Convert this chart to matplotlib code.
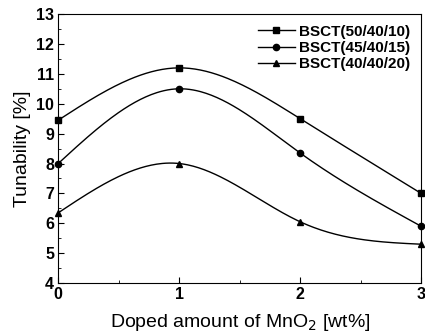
import numpy as np
import matplotlib.pyplot as plt

plt.rcParams['font.family'] = ['Liberation Sans', 'DejaVu Sans']

mno2 = [0, 1, 2, 3]
bsct_50 = [9.45, 11.2, 9.5, 7.0]
bsct_45 = [8.0, 10.5, 8.35, 5.9]
bsct_40 = [6.35, 8.0, 6.05, 5.3]
labels = ['BSCT(50/40/10)', 'BSCT(45/40/15)', 'BSCT(40/40/20)']
markers = ['s', 'o', '^']


def spline(x, y, n=200):
    # natural cubic spline through the measured points (smooth connecting line)
    x = np.asarray(x, float)
    y = np.asarray(y, float)
    k = len(x)
    h = np.diff(x)
    A = np.zeros((k, k))
    b = np.zeros(k)
    A[0, 0] = A[-1, -1] = 1
    for i in range(1, k - 1):
        A[i, i - 1] = h[i - 1]
        A[i, i] = 2 * (h[i - 1] + h[i])
        A[i, i + 1] = h[i]
        b[i] = 6 * ((y[i + 1] - y[i]) / h[i] - (y[i] - y[i - 1]) / h[i - 1])
    M = np.linalg.solve(A, b)
    xs = np.linspace(x[0], x[-1], n)
    idx = np.clip(np.searchsorted(x, xs) - 1, 0, k - 2)
    x0, x1 = x[idx], x[idx + 1]
    hh = x1 - x0
    ys = (M[idx] * (x1 - xs) ** 3 + M[idx + 1] * (xs - x0) ** 3) / (6 * hh) \
        + (y[idx] / hh - M[idx] * hh / 6) * (x1 - xs) \
        + (y[idx + 1] / hh - M[idx + 1] * hh / 6) * (xs - x0)
    return xs, ys


fig = plt.figure(figsize=(4.25, 3.35), dpi=100)
ax = fig.add_axes([0.137, 0.155, 0.854, 0.803])

for ys, m, lab in zip([bsct_50, bsct_45, bsct_40], markers, labels):
    sx, sy = spline(mno2, ys)
    ax.plot(sx, sy, color='black', lw=1.0)
    ax.plot(mno2, ys, linestyle='none', marker=m, color='black', ms=4.5, clip_on=False)
    ax.plot([], [], color='black', lw=1.0, marker=m, ms=4.5, label=lab)

ax.set_xlim(0, 3)
ax.set_ylim(4, 13)
ax.set_xticks([0, 1, 2, 3])
ax.set_xticks([0.5, 1.5, 2.5], minor=True)
ax.set_yticks(range(4, 14))
ax.set_yticks(np.arange(4.5, 13, 1), minor=True)
ax.tick_params(which='both', direction='in', top=False, right=False, labelsize=11.5)
ax.tick_params(which='major', length=4, pad=3)
ax.tick_params(which='minor', length=2.5)
for t in ax.get_xticklabels() + ax.get_yticklabels():
    t.set_fontweight('bold')

ax.set_xlabel('Doped amount of MnO$_2$ [wt%]', fontsize=14, labelpad=7)
ax.set_ylabel('Tunability [%]', fontsize=14, labelpad=4)

ax.legend(loc='upper right', frameon=False, prop={'weight': 'bold', 'size': 11},
          handlelength=2.4, handletextpad=0.3, labelspacing=0.15, borderaxespad=0.3)

plt.savefig('out.png', dpi=100)
